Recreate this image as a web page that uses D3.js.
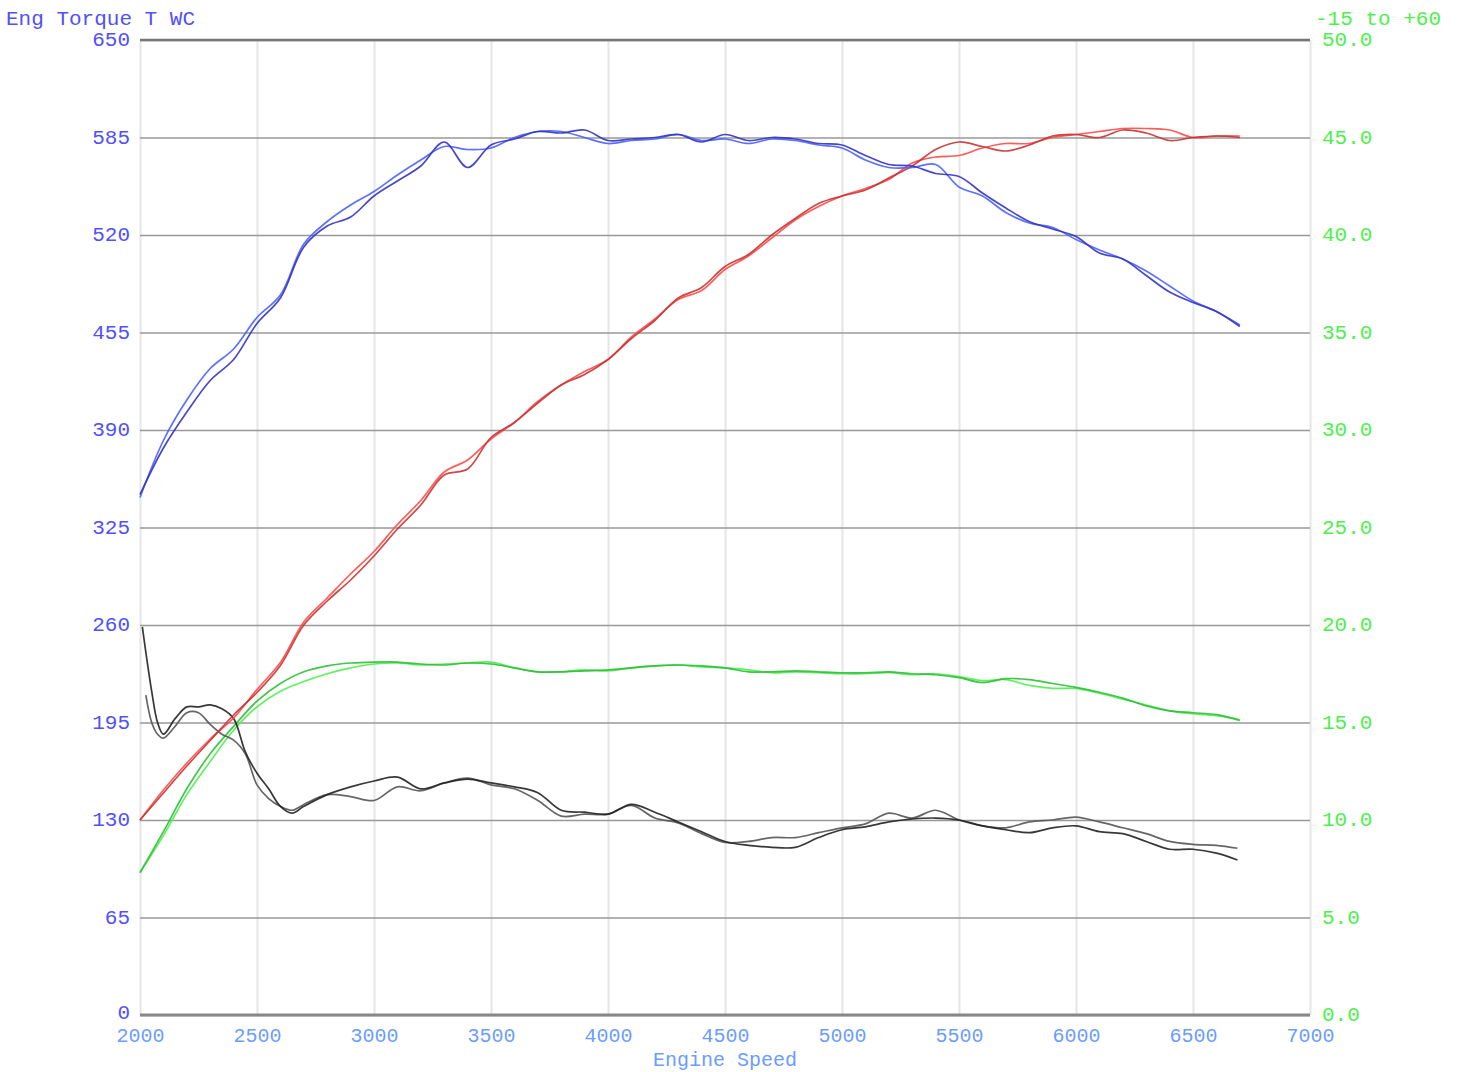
<!DOCTYPE html>
<html>
<head>
<meta charset="utf-8">
<script src="https://cdn.jsdelivr.net/npm/d3@7"></script>
<style>
  body { margin: 0; background: #fff; }
  svg { display: block; }
</style>
</head>
<body>
<svg id="chart" width="1460" height="1072"></svg>
<script>
// engine speed grid (rpm) shared by torque / power / green trace
const rpm = [2000, 2100, 2200, 2300, 2400, 2500, 2600, 2700, 2800, 2900,
    3000, 3100, 3200, 3300, 3400, 3500, 3600, 3700, 3800, 3900,
    4000, 4100, 4200, 4300, 4400, 4500, 4600, 4700, 4800, 4900,
    5000, 5100, 5200, 5300, 5400, 5500, 5600, 5700, 5800, 5900,
    6000, 6100, 6200, 6300, 6400, 6500, 6600, 6700];

// blue - left axis
const torqueA = [345, 383, 410, 431, 444, 465, 480, 514, 529, 540,
    549, 560, 570, 579, 577, 578, 585, 589, 589, 585,
    581, 583, 584, 587, 583, 584, 581, 584, 583, 580,
    578, 570, 565, 565, 567, 552, 546, 535, 528, 525,
    517, 510, 504, 496, 486, 476, 469, 460];
const torqueB = [347, 378, 402, 423, 437, 461, 478, 512, 526, 532,
    546, 556, 566, 582, 565, 580, 584, 589, 588, 590,
    583, 584, 585, 587, 582, 587, 583, 585, 584, 581,
    580, 573, 567, 566, 561, 559, 548, 538, 529, 524,
    519, 508, 504, 493, 482, 475, 469, 459];

// red - left axis
const powerA = [130, 150, 168, 184, 198, 217, 235, 262, 278, 294,
    309, 327, 343, 362, 370, 384, 395, 409, 420, 429,
    437, 452, 464, 477, 483, 497, 506, 518, 530, 539,
    546, 551, 557, 568, 572, 573, 578, 581, 581, 585,
    587, 589, 591, 591, 590, 585, 586, 586];
const powerB = [130, 148, 166, 183, 200, 215, 233, 260, 276, 290,
    306, 324, 340, 360, 364, 385, 395, 408, 420, 427,
    437, 451, 463, 478, 485, 499, 507, 520, 531, 541,
    546, 550, 558, 566, 577, 582, 579, 576, 580, 586,
    587, 585, 590, 588, 583, 585, 586, 585];

// green - right axis
const greenA = [7.3, 9.2, 11.3, 13.0, 14.6, 15.8, 16.6, 17.1, 17.5, 17.8,
    18.0, 18.05, 17.95, 18.0, 18.05, 18.1, 17.8, 17.6, 17.6, 17.7,
    17.65, 17.8, 17.9, 17.95, 17.85, 17.8, 17.7, 17.55, 17.6, 17.55,
    17.5, 17.5, 17.55, 17.45, 17.5, 17.35, 17.15, 17.2, 16.9, 16.75,
    16.75, 16.5, 16.2, 15.9, 15.6, 15.45, 15.35, 15.15];
const greenB = [7.3, 9.4, 11.6, 13.4, 14.8, 16.1, 17.0, 17.6, 17.9, 18.05,
    18.1, 18.1, 18.0, 17.95, 18.05, 18.0, 17.8, 17.6, 17.6, 17.65,
    17.7, 17.8, 17.9, 17.95, 17.9, 17.8, 17.6, 17.6, 17.65, 17.6,
    17.55, 17.55, 17.6, 17.5, 17.45, 17.3, 17.05, 17.25, 17.2, 17.0,
    16.8, 16.55, 16.25, 15.85, 15.6, 15.5, 15.4, 15.1];

// black - right axis, finer rpm steps at the start
const blackRpm = [2010, 2025, 2050, 2075, 2100, 2150, 2200, 2250, 2300, 2350,
    2400, 2450, 2500, 2550, 2600, 2650, 2700, 2800, 2900,
    3000, 3100, 3200, 3300, 3400, 3500, 3600, 3700, 3800, 3900,
    4000, 4100, 4200, 4300, 4400, 4500, 4600, 4700, 4800, 4900,
    5000, 5100, 5200, 5300, 5400, 5500, 5600, 5700, 5800, 5900,
    6000, 6100, 6200, 6300, 6400, 6500, 6600, 6690];
const blackA = [null, 16.4, 15.0, 14.4, 14.2, 14.8, 15.5, 15.5, 14.9, 14.4,
    14.1, 13.4, 11.8, 11.1, 10.7, 10.5, 10.8, 11.3, 11.2,
    11.0, 11.7, 11.5, 11.9, 12.15, 11.8, 11.6, 11.0, 10.2, 10.3,
    10.3, 10.75, 10.1, 9.85, 9.3, 8.85, 8.9, 9.1, 9.1, 9.35,
    9.6, 9.8, 10.35, 10.1, 10.5, 10.0, 9.7, 9.6, 9.9, 10.0,
    10.15, 9.9, 9.6, 9.3, 8.9, 8.75, 8.7, 8.55];
const blackB = [19.9, 18.6, 16.6, 15.0, 14.4, 15.2, 15.8, 15.8, 15.9, 15.7,
    15.2, 13.5, 12.4, 11.6, 10.7, 10.35, 10.7, 11.3, 11.7,
    12.0, 12.2, 11.6, 11.9, 12.1, 11.9, 11.7, 11.4, 10.5, 10.4,
    10.3, 10.8, 10.4, 9.9, 9.4, 8.9, 8.7, 8.6, 8.6, 9.1,
    9.5, 9.65, 9.9, 10.05, 10.1, 10.0, 9.7, 9.5, 9.35, 9.6,
    9.7, 9.4, 9.3, 8.9, 8.5, 8.5, 8.3, 7.95];

const leftTicks = [0, 65, 130, 195, 260, 325, 390, 455, 520, 585, 650];
const rightTicks = [0, 5, 10, 15, 20, 25, 30, 35, 40, 45, 50];

const leftTitle = "Eng Torque T WC";
const rightTitle = "-15 to +60";
const xTitle = "Engine Speed";

let margin = ({top: 40, right: 150, bottom: 57, left: 140});
let width = 1460;
let height = 1072;
const font = "'Courier New', 'Liberation Mono', monospace";

let x = d3.scaleLinear()
    .domain([2000, 7000])
    .range([margin.left, width - margin.right]);
let yL = d3.scaleLinear()
    .domain([0, 650])
    .range([height - margin.bottom, margin.top]);
let yR = d3.scaleLinear()
    .domain([0, 50])
    .range([height - margin.bottom, margin.top]);

const svg = d3.select("#chart");
svg.append("rect").attr("width", width).attr("height", height).attr("fill", "#fff");

// vertical grid
svg.append("g")
    .attr("transform", `translate(0,${margin.top})`)
    .call(d3.axisBottom(x).ticks(10).tickSize(yL(0) - margin.top).tickFormat(""))
    .call(g => g.select(".domain").remove())
    .call(g => g.selectAll("line").attr("stroke", "#e6e6e6").attr("stroke-width", 2));

// horizontal grid
svg.append("g")
    .attr("transform", `translate(${margin.left},0)`)
    .call(d3.axisRight(yL).tickValues(leftTicks).tickSize(x(7000) - margin.left).tickFormat(""))
    .call(g => g.select(".domain").remove())
    .call(g => g.selectAll("line").attr("stroke", "#999").attr("stroke-width", 1.5));

svg.append("line")
    .attr("x1", x(2000)).attr("x2", x(7000))
    .attr("y1", yL(650)).attr("y2", yL(650))
    .attr("stroke", "#777").attr("stroke-width", 2.5);
svg.append("line")
    .attr("x1", x(2000)).attr("x2", x(7000))
    .attr("y1", yL(0)).attr("y2", yL(0))
    .attr("stroke", "#888").attr("stroke-width", 3);

// axes labels
let styleText = (g, color, size) => g
    .attr("font-family", font)
    .attr("font-size", size)
    .call(g => g.select(".domain").remove())
    .call(g => g.selectAll("text").attr("fill", color));

svg.append("g")
    .attr("transform", `translate(${margin.left},0)`)
    .call(d3.axisLeft(yL).tickValues(leftTicks).tickSize(0).tickPadding(10))
    .call(g => styleText(g, "#5050ff", 21))
    .call(g => g.selectAll("text").attr("dy", d => d === 0 ? "0.16em" : "0.28em"));

svg.append("g")
    .attr("transform", `translate(${x(7000)},0)`)
    .call(d3.axisRight(yR).tickValues(rightTicks).tickSize(0).tickPadding(12).tickFormat(d3.format(".1f")))
    .call(g => styleText(g, "#4df04d", 21))
    .call(g => g.selectAll("text").attr("dy", "0.28em"));

svg.append("g")
    .attr("transform", `translate(0,${yL(0)})`)
    .call(d3.axisBottom(x).ticks(10).tickSize(0).tickPadding(13).tickFormat(d3.format("d")))
    .call(g => styleText(g, "#6b9cff", 20));

svg.append("text")
    .attr("x", 6).attr("y", 25)
    .attr("font-family", font).attr("font-size", 21)
    .attr("fill", "#5050ff")
    .text(leftTitle);
svg.append("text")
    .attr("x", 1315).attr("y", 25)
    .attr("font-family", font).attr("font-size", 21)
    .attr("fill", "#4df04d")
    .text(rightTitle);
svg.append("text")
    .attr("x", (x(2000) + x(7000)) / 2).attr("y", 1066)
    .attr("text-anchor", "middle")
    .attr("font-family", font).attr("font-size", 20)
    .attr("fill", "#6b9cff")
    .text(xTitle);

// traces
let drawTrace = (xs, ys, yScale, color) => {
    let pts = xs.map((r, i) => [r, ys[i]]);
    let line = d3.line()
        .defined(d => d[1] != null)
        .x(d => x(d[0]))
        .y(d => yScale(d[1]))
        .curve(d3.curveCatmullRom.alpha(0.5));
    svg.append("path")
        .datum(pts)
        .attr("fill", "none")
        .attr("stroke", color)
        .attr("stroke-width", 1.7)
        .attr("stroke-opacity", 0.9)
        .attr("stroke-linejoin", "round")
        .attr("d", line);
};

drawTrace(rpm, greenA, yR, "#4ef04e");
drawTrace(rpm, greenB, yR, "#2fbf3a");
drawTrace(blackRpm, blackA, yR, "#555");
drawTrace(blackRpm, blackB, yR, "#222");
drawTrace(rpm, powerA, yL, "#ff4a4a");
drawTrace(rpm, powerB, yL, "#c83434");
drawTrace(rpm, torqueA, yL, "#4a62ff");
drawTrace(rpm, torqueB, yL, "#3434c0");
</script>
</body>
</html>
